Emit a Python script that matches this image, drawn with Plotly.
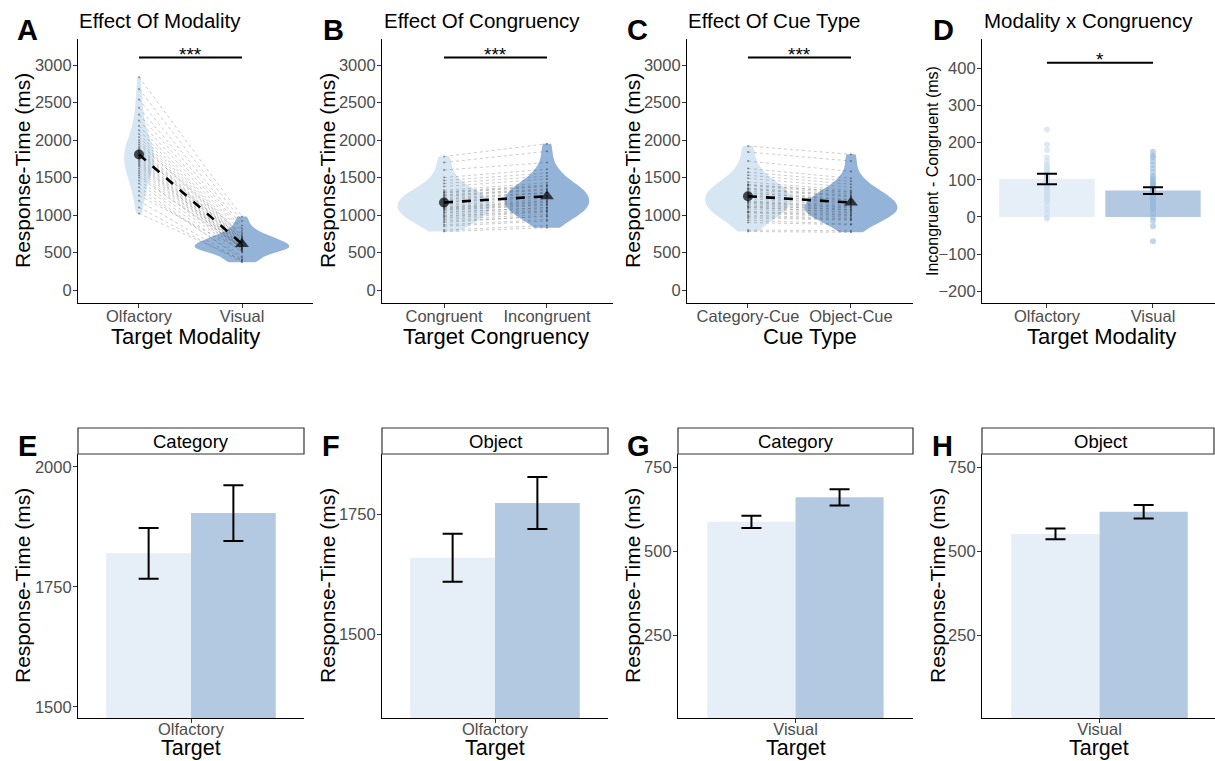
import numpy as np
import plotly.graph_objects as go

W, H = 1215, 761
FONT = "Liberation Sans, Arial, sans-serif"

# ---------------- data ----------------
modality = ["Olfactory", "Visual"]
congruency = ["Congruent", "Incongruent"]
cue_type = ["Category-Cue", "Object-Cue"]

# participant-level response times (ms), same participant order in each list
rt_olfactory = [1710, 2190, 1460, 1890, 1020, 2540, 1650, 1790, 1320, 2040, 1560, 1830, 2840, 1190, 1750, 1970, 1420, 2260, 1620, 1870,
                1100, 1690, 2080, 1530, 1910, 2430, 1370, 1770, 1260, 2000, 1590, 1850, 2680, 1500, 1730, 2130, 1810, 1670, 2340, 1940]
rt_visual = [560, 720, 500, 640, 400, 860, 545, 610, 430, 680, 520, 620, 980, 385, 575, 660, 450, 760, 540, 630,
             370, 555, 700, 510, 650, 820, 405, 590, 530, 670, 550, 600, 920, 565, 580, 710, 690, 570, 790, 740]
rt_congruent = [1090, 1380, 960, 1230, 780, 1600, 1060, 1150, 900, 1310, 1010, 1180, 1780, 850, 1110, 1270, 940, 1420, 1040, 1200,
                800, 1080, 1300, 990, 1250, 1500, 920, 1130, 870, 1290, 1030, 1170, 1700, 980, 1100, 1330, 1210, 1070, 1460, 1260]
rt_incongruent = [1170, 1480, 1040, 1300, 830, 1700, 1130, 1230, 990, 1400, 1080, 1260, 1950, 920, 1190, 1350, 1010, 1520, 1100, 1290,
                  860, 1150, 1390, 1060, 1330, 1610, 980, 1210, 940, 1380, 1100, 1250, 1850, 1050, 1180, 1430, 1300, 1140, 1560, 1340]
rt_category_cue = [1170, 1490, 1030, 1320, 800, 1720, 1120, 1240, 960, 1410, 1080, 1270, 1920, 900, 1190, 1360, 1000, 1530, 1110, 1290,
                   780, 1160, 1400, 1050, 1340, 1620, 980, 1220, 930, 1390, 1100, 1260, 1840, 1040, 1180, 1440, 1300, 1140, 1570, 1350]
rt_object_cue = [1090, 1370, 970, 1210, 790, 1580, 1070, 1140, 930, 1300, 1010, 1170, 1810, 870, 1110, 1260, 950, 1410, 1030, 1200,
                 770, 1070, 1310, 1000, 1240, 1490, 940, 1120, 880, 1280, 1040, 1160, 1720, 990, 1100, 1330, 1190, 1060, 1450, 1250]

# panel D: incongruent - congruent per participant
diff_olfactory = [235, 195, 180, 160, 150, 140, 135, 130, 125, 120, 115, 110, 108, 105, 102, 100, 98, 95, 92, 90,
                  88, 85, 82, 80, 78, 75, 70, 65, 60, 55, 50, 45, 40, 30, 20, 10, 0, -5, 115, 95]
diff_visual = [175, 165, 160, 150, 140, 130, 120, 110, 105, 100, 95, 90, 85, 80, 78, 75, 72, 70, 68, 65,
               62, 60, 58, 55, 52, 50, 45, 40, 35, 30, 25, 20, 10, 0, -10, -25, -65, 88, 72, 66]
diff_mean = [102, 71]
diff_se = [14, 9]

# significance
sig_rt_level = 3100
sig_diff_level = 414
sig_labels = ["***", "***", "***", "*"]

# panels E-H
facet_cue = ["Category", "Object", "Category", "Object"]
facet_target = ["Olfactory", "Olfactory", "Visual", "Visual"]
cong_mean = [1820, 1660, 587, 551]
cong_se = [53, 50, 18, 16]
incong_mean = [1904, 1774, 660, 617]
incong_se = [58, 54, 24, 20]

# tick values
ticks_rt = [0, 500, 1000, 1500, 2000, 2500, 3000]
ticks_diff = [-200, -100, 0, 100, 200, 300, 400]
ticks_bottom = [[1500, 1750, 2000], [1500, 1750], [250, 500, 750], [250, 500, 750]]

# ---------------- style ----------------
LIGHT_V = "#d7e6f3"
DARK_V = "#93b3d8"
LIGHT_B = "#e6eef7"
DARK_B = "#b3c9e2"
TICKC = "#4d4d4d"


def px(x):
    return x / W


def py(y):
    return 1 - y / H


fig = go.Figure()

# geometry (pixels)
top_panels = [
    dict(x0=78, x1=313, xr=[-0.592, 1.689], yr=[-173, 3347]),
    dict(x0=382, x1=613, xr=[-0.602, 1.641], yr=[-173, 3347]),
    dict(x0=687, x1=913, xr=[-0.592, 1.602], yr=[-173, 3347]),
    dict(x0=982, x1=1215, xr=[-0.613, 1.585], yr=[-231, 478]),
]
bot_panels = [
    dict(x0=78, x1=304, xr=[-0.6, 0.6], yr=[1477, 2027]),
    dict(x0=382, x1=608, xr=[-0.6, 0.6], yr=[1326, 1876]),
    dict(x0=678, x1=913, xr=[-0.6, 0.6], yr=[3, 789]),
    dict(x0=982, x1=1215, xr=[-0.6, 0.589], yr=[3, 789]),
]
TOP_Y0, TOP_Y1 = 39, 303
BOT_Y0, BOT_Y1 = 454, 718

layout_axes = {}


def axis_common():
    return dict(showline=True, linecolor="black", linewidth=1.1, ticks="outside", ticklen=4,
                tickcolor="#333333", tickwidth=1, showgrid=False, zeroline=False,
                tickfont=dict(family=FONT, size=16.5, color=TICKC))


all_panels = top_panels + bot_panels
for i, p in enumerate(all_panels):
    n = i + 1
    xk = "xaxis" if n == 1 else f"xaxis{n}"
    yk = "yaxis" if n == 1 else f"yaxis{n}"
    ya_name = "y" if n == 1 else f"y{n}"
    xa_name = "x" if n == 1 else f"x{n}"
    if i < 4:
        ydom = [py(TOP_Y1), py(TOP_Y0)]
    else:
        ydom = [py(BOT_Y1), py(BOT_Y0)]
    xa = axis_common()
    xa.update(domain=[px(p["x0"]), min(1.0, px(p["x1"]))], range=p["xr"], anchor=ya_name, type="category",
              ticklabelstandoff=-6 if i < 4 else -8)
    ya = axis_common()
    ya.update(domain=ydom, range=p["yr"], anchor=xa_name, ticklabelstandoff=-2)
    layout_axes[xk] = xa
    layout_axes[yk] = ya

layout_axes["xaxis"]["categoryarray"] = modality
layout_axes["xaxis2"]["categoryarray"] = congruency
layout_axes["xaxis3"]["categoryarray"] = cue_type
layout_axes["xaxis4"]["categoryarray"] = modality
for k in ["xaxis", "xaxis2", "xaxis3", "xaxis4"]:
    layout_axes[k]["categoryorder"] = "array"
for k in ["yaxis", "yaxis2", "yaxis3"]:
    layout_axes[k]["tickvals"] = ticks_rt
layout_axes["yaxis4"]["tickvals"] = ticks_diff
for j, k in enumerate(["yaxis5", "yaxis6", "yaxis7", "yaxis8"]):
    layout_axes[k]["tickvals"] = ticks_bottom[j]

# ---------------- panels A-C: violins + paired lines ----------------
violin_sets = [
    (modality, rt_olfactory, rt_visual, (0.29, 0.92)),
    (congruency, rt_congruent, rt_incongruent, (0.90, 0.82)),
    (cue_type, rt_category_cue, rt_object_cue, (0.83, 0.90)),
]
for i, (cats, v1, v2, widths) in enumerate(violin_sets):
    xa = "x" if i == 0 else f"x{i + 1}"
    ya = "y" if i == 0 else f"y{i + 1}"
    for cat, vals, col, w in [(cats[0], v1, LIGHT_V, widths[0]), (cats[1], v2, DARK_V, widths[1])]:
        fig.add_trace(go.Violin(x=[cat] * len(vals), y=vals, xaxis=xa, yaxis=ya, side="both", width=w,
                                scalemode="width", spanmode="hard", points=False, fillcolor=col,
                                line=dict(width=0, color=col), box_visible=False, meanline_visible=False,
                                showlegend=False, hoverinfo="skip"))
    lx, ly = [], []
    for a, b in zip(v1, v2):
        lx += [cats[0], cats[1], None]
        ly += [a, b, None]
    fig.add_trace(go.Scatter(x=lx, y=ly, xaxis=xa, yaxis=ya, mode="lines",
                             line=dict(color="rgba(70,70,70,0.4)", width=0.7, dash="dot"),
                             showlegend=False, hoverinfo="skip"))
    fig.add_trace(go.Scatter(x=[cats[0]] * len(v1) + [cats[1]] * len(v2), y=v1 + v2, xaxis=xa, yaxis=ya,
                             mode="markers", marker=dict(size=2, color="rgba(40,40,40,0.45)", line=dict(width=0)),
                             showlegend=False, hoverinfo="skip"))
    m1, m2 = float(np.mean(v1)), float(np.mean(v2))
    fig.add_trace(go.Scatter(x=cats, y=[m1, m2], xaxis=xa, yaxis=ya, mode="lines",
                             line=dict(color="black", width=2.6, dash="dash"), showlegend=False, hoverinfo="skip"))
    fig.add_trace(go.Scatter(x=cats, y=[m1, m2], xaxis=xa, yaxis=ya, mode="markers",
                             marker=dict(symbol=["circle", "triangle-up"], size=[10, 12], color="black",
                                         line=dict(width=0)),
                             showlegend=False, hoverinfo="skip"))
    fig.add_trace(go.Scatter(x=cats, y=[sig_rt_level, sig_rt_level], xaxis=xa, yaxis=ya, mode="lines",
                             line=dict(color="black", width=2), showlegend=False, hoverinfo="skip"))

# ---------------- panel D ----------------
fig.add_trace(go.Bar(x=modality, y=diff_mean, xaxis="x4", yaxis="y4", marker=dict(color=[LIGHT_B, DARK_B], line=dict(width=0)),
                     showlegend=False, hoverinfo="skip"))
fig.add_trace(go.Scatter(x=[modality[0]] * len(diff_olfactory), y=diff_olfactory, xaxis="x4", yaxis="y4", mode="markers",
                         marker=dict(size=6, color="rgba(200,222,240,0.6)", line=dict(width=0)), showlegend=False, hoverinfo="skip"))
fig.add_trace(go.Scatter(x=[modality[1]] * len(diff_visual), y=diff_visual, xaxis="x4", yaxis="y4", mode="markers",
                         marker=dict(size=6, color="rgba(150,185,222,0.6)", line=dict(width=0)), showlegend=False, hoverinfo="skip"))
fig.add_trace(go.Scatter(x=modality, y=diff_mean, xaxis="x4", yaxis="y4", mode="markers", marker=dict(size=1, opacity=0),
                         error_y=dict(type="data", array=diff_se, color="black", thickness=2, width=10),
                         showlegend=False, hoverinfo="skip"))
fig.add_trace(go.Scatter(x=modality, y=[sig_diff_level, sig_diff_level], xaxis="x4", yaxis="y4", mode="lines",
                         line=dict(color="black", width=2), showlegend=False, hoverinfo="skip"))

# ---------------- panels E-H ----------------
for j in range(4):
    n = j + 5
    xa, ya = f"x{n}", f"y{n}"
    fig.add_trace(go.Bar(x=[facet_target[j]], y=[cong_mean[j]], xaxis=xa, yaxis=ya, marker=dict(color=LIGHT_B, line=dict(width=0)),
                         error_y=dict(type="data", array=[cong_se[j]], color="black", thickness=2, width=10),
                         offsetgroup="c", showlegend=False, hoverinfo="skip"))
    fig.add_trace(go.Bar(x=[facet_target[j]], y=[incong_mean[j]], xaxis=xa, yaxis=ya, marker=dict(color=DARK_B, line=dict(width=0)),
                         error_y=dict(type="data", array=[incong_se[j]], color="black", thickness=2, width=10),
                         offsetgroup="i", showlegend=False, hoverinfo="skip"))

# ---------------- text ----------------
ann = []


def text(x, y, s, size, color="black", bold=False, angle=0, xanchor="center", yanchor="middle"):
    ann.append(dict(x=px(x), y=py(y), xref="paper", yref="paper", text=f"<b>{s}</b>" if bold else s,
                    showarrow=False, textangle=angle, xanchor=xanchor, yanchor=yanchor,
                    font=dict(family=FONT, size=size, color=color)))


letters_top = [("A", 27), ("B", 333), ("C", 637), ("D", 943)]
letters_bot = [("E", 27), ("F", 331), ("G", 638), ("H", 942)]
for l, x in letters_top:
    text(x, 30, l, 29, bold=True)
for l, x in letters_bot:
    text(x, 446, l, 29, bold=True)

titles = [("Effect Of Modality", 77), ("Effect Of Congruency", 382), ("Effect Of Cue Type", 686), ("Modality x Congruency", 982)]
for t, x in titles:
    text(x, 21, t, 20.5, xanchor="left")

xtitles = [("Target Modality", 185.5), ("Target Congruency", 496), ("Cue Type", 810), ("Target Modality", 1101)]
for t, x in xtitles:
    text(x, 336, t, 22)

ytitles_top = [(22, 21, "Response-Time (ms)"), (327, 21, "Response-Time (ms)"), (632, 21, "Response-Time (ms)"),
               (932, 16, "Incongruent - Congruent (ms)")]
for x, s, t in ytitles_top:
    text(x, 171, t, s, angle=-90)
for x in [22, 327, 632, 937]:
    text(x, 586, "Response-Time (ms)", 21, angle=-90)
for p in bot_panels:
    text((p["x0"] + p["x1"]) / 2, 748, "Target", 21.5)

# strips
shapes = []
for p, lab in zip(bot_panels, facet_cue):
    right = min(p["x1"], 1214)
    shapes.append(dict(type="rect", xref="paper", yref="paper", x0=px(p["x0"]), x1=px(right),
                       y0=py(454), y1=py(428), line=dict(color="#333333", width=1.2), fillcolor="white"))
    text((p["x0"] + p["x1"]) / 2 if p["x1"] < 1215 else (p["x0"] + 1218) / 2, 441, lab, 18.5)

# significance stars (data coordinates)
for i, s in enumerate(sig_labels):
    n = i + 1
    ann.append(dict(x=0.5, y=sig_rt_level if i < 3 else sig_diff_level, xref="x" if n == 1 else f"x{n}",
                    yref="y" if n == 1 else f"y{n}", text=s, showarrow=False, yanchor="bottom", yshift=-9,
                    font=dict(family=FONT, size=19, color="black")))

fig.update_layout(width=W, height=H, margin=dict(l=0, r=0, t=0, b=0), paper_bgcolor="white", plot_bgcolor="white",
                  barmode="group", bargap=0.1, bargroupgap=0, violinmode="overlay", annotations=ann, shapes=shapes,
                  showlegend=False, **layout_axes)

fig.write_html("out.html", config={"displayModeBar": False},
               post_script="document.body.style.margin='0';document.body.style.overflow='hidden';")
